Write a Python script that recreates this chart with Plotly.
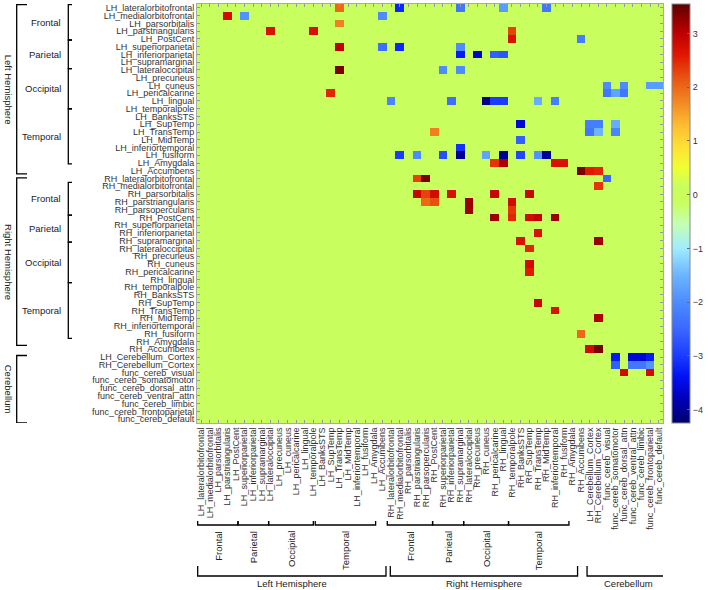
import plotly.graph_objects as go

labels = [
    "LH_lateralorbitofrontal", "LH_medialorbitofrontal", "LH_parsorbitalis", "LH_parstriangularis",
    "LH_PostCent", "LH_superiorparietal", "LH_inferiorparietal", "LH_supramarginal",
    "LH_lateraloccipital", "LH_precuneus", "LH_cuneus", "LH_pericalcarine", "LH_lingual",
    "LH_temporalpole", "LH_BanksSTS", "LH_SupTemp", "LH_TransTemp", "LH_MidTemp",
    "LH_inferiortemporal", "LH_fusiform", "LH_Amygdala", "LH_Accumbens",
    "RH_lateralorbitofrontal", "RH_medialorbitofrontal", "RH_parsorbitalis", "RH_parstriangularis",
    "RH_parsopercularis", "RH_PostCent", "RH_superiorparietal", "RH_inferiorparietal",
    "RH_supramarginal", "RH_lateraloccipital", "RH_precuneus", "RH_cuneus", "RH_pericalcarine",
    "RH_lingual", "RH_temporalpole", "RH_BanksSTS", "RH_SupTemp", "RH_TransTemp", "RH_MidTemp",
    "RH_inferiortemporal", "RH_fusiform", "RH_Amygdala", "RH_Accumbens",
    "LH_Cerebellum_Cortex", "RH_Cerebellum_Cortex", "func_cereb_visual", "func_cereb_somatomotor",
    "func_cereb_dorsal_attn", "func_cereb_ventral_attn", "func_cereb_limbic",
    "func_cereb_frontoparietal", "func_cereb_default",
]

# non-zero cells: row index, column index, value
cell_rows = [0, 0, 0, 0, 0,
             1, 1, 1,
             2,
             3, 3, 3,
             4, 4,
             5, 5, 5, 5,
             6, 6, 6, 6,
             8, 8, 8,
             10, 10, 10, 10,
             11, 11, 11, 11,
             12, 12, 12, 12, 12, 12, 12,
             15, 15, 15, 15,
             16, 16, 16, 16,
             17,
             18,
             19, 19, 19, 19, 19, 19, 19, 19, 19,
             20, 20, 20, 20,
             21, 21, 21,
             22, 22, 22,
             23,
             24, 24, 24, 24, 24, 24,
             25, 25, 25, 25,
             26, 26,
             27, 27, 27, 27, 27,
             29,
             30, 30,
             31,
             33,
             34,
             38,
             39,
             40,
             42,
             44, 44,
             45, 45, 45, 45,
             46, 46, 46, 46,
             47, 47]
cell_cols = [16, 23, 30, 35, 40,
             3, 5, 21,
             16,
             8, 13, 36,
             36, 44,
             16, 21, 23, 30,
             30, 32, 34, 35,
             16, 28, 30,
             47, 49, 52, 53,
             15, 47, 48, 49,
             22, 29, 33, 34, 35, 39, 41,
             37, 45, 46, 48,
             27, 45, 46, 48,
             37,
             30,
             23, 25, 28, 30, 33, 35, 37, 39, 40,
             34, 35, 41, 42,
             44, 45, 46,
             25, 26, 47,
             46,
             25, 26, 27, 29, 34, 38,
             26, 27, 31, 36,
             31, 36,
             34, 36, 38, 39, 41,
             39,
             37, 46,
             38,
             38,
             38,
             39,
             41,
             46,
             44,
             45, 46,
             48, 50, 51, 52,
             48, 50, 51, 52,
             49, 52]
cell_vals = [2.0, -3.2, -2.3, -1.8, -2.3,
             2.8, -1.9, -2.0,
             1.8,
             2.7, 2.7, 2.3,
             2.7, -2.2,
             3.0, -2.4, -3.2, -2.0,
             -3.3, -3.7, -2.6, -2.7,
             3.4, -2.0, -2.0,
             -2.0, -2.0, -1.8, -1.8,
             2.5, -2.3, -1.7, -2.3,
             -2.1, -2.4, -4.1, -3.0, -3.0, -1.6, -2.2,
             -3.6, -2.2, -2.2, -1.6,
             1.8, -2.3, -1.5, -2.1,
             -2.6,
             -3.1,
             -3.0, -2.0, -2.8, -4.0, -1.7, -4.0, -2.9, -1.9, -4.0,
             2.4, 3.1, 2.7, 2.7,
             3.4, 2.6, 2.5,
             2.3, 3.4, -2.5,
             2.4,
             2.9, 2.3, 2.8, 2.7, 2.9, 2.9,
             2.0, 2.2, 3.2, 2.8,
             3.2, 2.4,
             3.2, 2.5, 2.8, 3.0, 3.2,
             2.7,
             2.7, 3.2,
             2.5,
             2.8,
             2.6,
             2.9,
             2.7,
             3.1,
             2.0,
             2.8, 3.4,
             -3.3, -3.6, -3.6, -3.3,
             -2.6, -2.3, -2.3, -1.9,
             2.8, 2.8]

colorbar_ticks = [-4, -3, -2, -1, 0, 1, 2, 3]

left_main = [("Left Hemisphere", -0.42, 21.4), ("Right Hemisphere", 21.9, 43.5), ("Cerebellum", 44.8, 53.5)]
left_sub = [("Frontal", -0.42, 4.14), ("Parietal", 4.14, 7.84), ("Occipital", 7.84, 13.0), ("Temporal", 13.0, 20.1),
            ("Frontal", 22.5, 26.7), ("Parietal", 26.7, 30.2), ("Occipital", 30.2, 35.4), ("Temporal", 35.4, 42.6)]
bottom_main = [("Left Hemisphere", -0.42, 21.4), ("Right Hemisphere", 21.9, 43.6), ("Cerebellum", 44.7, 54.3)]
bottom_sub = [("Frontal", -0.42, 4.25), ("Parietal", 4.25, 7.8), ("Occipital", 7.8, 12.98), ("Temporal", 13.2, 20.2),
              ("Frontal", 21.55, 26.8), ("Parietal", 26.8, 30.4), ("Occipital", 30.4, 35.6), ("Temporal", 35.6, 42.6)]

n = len(labels)
z = [[0.0] * n for _ in range(n)]
for r, c, v in zip(cell_rows, cell_cols, cell_vals):
    z[r][c] = v

ZMIN, ZMAX = -4.25, 3.55
cs_points = [
    (-4.25, "#00006e"), (-3.8, "#0000b8"), (-3.4, "#0010f2"), (-3.0, "#1a3cff"),
    (-2.5, "#3a68ff"), (-2.0, "#4c8cff"), (-1.5, "#6cb4ff"), (-1.0, "#a0ecff"),
    (-0.55, "#c4ffb4"), (-0.15, "#c8ff5f"), (0.15, "#c8ff5f"), (0.5, "#f0ff33"),
    (0.9, "#ffe033"), (1.3, "#ffbb33"), (1.8, "#f08020"), (2.2, "#e85010"),
    (2.6, "#e01800"), (3.0, "#c00000"), (3.55, "#5e0000"),
]
colorscale = [[(v - ZMIN) / (ZMAX - ZMIN), c] for v, c in cs_points]

FONT = "Liberation Sans, Arial, sans-serif"
W, H = 708, 590
L, R, T, B = 197, 45, 4, 167
PW, PH = W - L - R, H - T - B


def X(px):
    return (px - L) / PW


def Y(py):
    return (H - B - py) / PH


fig = go.Figure(go.Heatmap(
    z=z, x=list(range(n)), y=list(range(n)),
    colorscale=colorscale, zmin=ZMIN, zmax=ZMAX,
    colorbar=dict(
        x=X(672), xanchor="left", y=0.5, yanchor="middle", len=1.0, lenmode="fraction",
        thickness=18, thicknessmode="pixels", xpad=0, ypad=0,
        outlinewidth=1, outlinecolor="#888",
        tickvals=colorbar_ticks, ticks="inside", ticklen=3, tickcolor="#666",
        tickfont=dict(family=FONT, size=9, color="#333"),
    ),
    hoverinfo="skip",
))

axis_common = dict(
    tickmode="array", tickvals=list(range(n)), ticktext=labels,
    ticks="inside", ticklen=3, tickcolor="#999", showline=True, linecolor="#aaa", linewidth=1,
    mirror="ticks", showgrid=False, zeroline=False,
    tickfont=dict(family=FONT, size=9, color="#333"),
)
fig.update_xaxes(range=[-0.5, n - 0.5], tickangle=-90, **axis_common)
fig.update_yaxes(range=[n - 0.5, -0.5], **axis_common)

shapes = []
annotations = []
LINE = dict(color="black", width=1.3)

for name, a, b in left_main:
    shapes.append(dict(type="path", xref="paper", yref="y",
                       path=f"M {X(27)},{a} L {X(16.7)},{a} L {X(16.7)},{b} L {X(27)},{b}", line=LINE))
    annotations.append(dict(text=name, xref="paper", yref="y", x=X(8.5), y=(a + b) / 2,
                            xanchor="center", yanchor="middle", textangle=90, showarrow=False,
                            font=dict(family=FONT, size=9.5, color="#222")))
for name, a, b in left_sub:
    shapes.append(dict(type="path", xref="paper", yref="y",
                       path=f"M {X(72)},{a} L {X(68.3)},{a} L {X(68.3)},{b} L {X(72)},{b}", line=LINE))
    annotations.append(dict(text=name, xref="paper", yref="y", x=X(63), y=(a + b) / 2,
                            xanchor="right", yanchor="middle", showarrow=False,
                            font=dict(family=FONT, size=9.5, color="#222")))
for name, a, b in bottom_main:
    shapes.append(dict(type="path", xref="x", yref="paper",
                       path=f"M {a},{Y(566)} L {a},{Y(576)} L {b},{Y(576)} L {b},{Y(566)}", line=LINE))
    annotations.append(dict(text=name, xref="x", yref="paper", x=(a + b) / 2, y=Y(583.5),
                            xanchor="center", yanchor="middle", showarrow=False,
                            font=dict(family=FONT, size=9.5, color="#222")))
for name, a, b in bottom_sub:
    shapes.append(dict(type="path", xref="x", yref="paper",
                       path=f"M {a},{Y(521)} L {a},{Y(525)} L {b},{Y(525)} L {b},{Y(521)}", line=LINE))
    annotations.append(dict(text=name, xref="x", yref="paper", x=(a + b) / 2, y=Y(529),
                            xanchor="center", yanchor="top", textangle=-90, showarrow=False,
                            font=dict(family=FONT, size=9.5, color="#222")))

fig.update_layout(
    width=W, height=H,
    margin=dict(l=L, r=R, t=T, b=B, autoexpand=False),
    paper_bgcolor="white", plot_bgcolor="white",
    shapes=shapes, annotations=annotations,
    font=dict(family=FONT, size=9, color="#333"),
)

fig.write_html("out.html", config={"displayModeBar": False},
               post_script="document.body.style.margin='0';document.body.style.overflow='hidden';")
